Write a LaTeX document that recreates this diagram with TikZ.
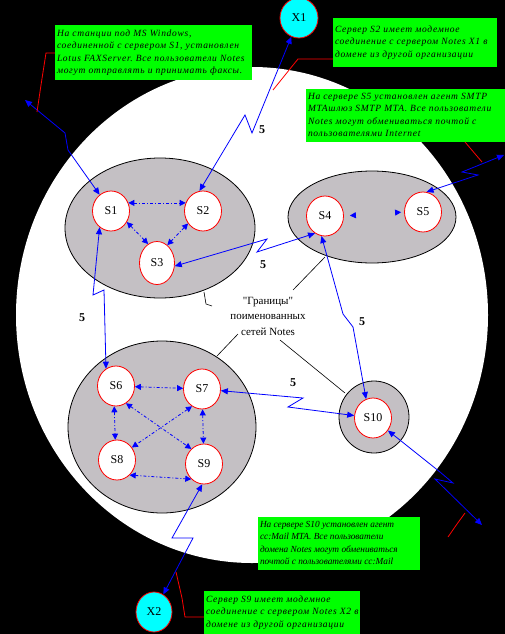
\documentclass[tikz,border=0pt]{standalone}
\usepackage{fontspec}
\setmainfont{Liberation Serif}
\newfontfamily\boxfont[LetterSpace=7.5]{Liberation Serif}
\newfontfamily\boxfontn[LetterSpace=0]{Liberation Serif}
\newfontfamily\lblfont{Liberation Serif}
\usetikzlibrary{shapes.geometric,arrows.meta}
\definecolor{grn}{RGB}{0,255,0}
\definecolor{cyn}{RGB}{0,255,255}
\definecolor{gry}{RGB}{196,192,196}
\definecolor{blu}{RGB}{0,0,255}
\definecolor{rd}{RGB}{255,0,0}
\newcommand\notelines[2]{\makebox[#1][l]{\begin{tabular}{@{}l@{}}#2\end{tabular}}}
\frenchspacing
\begin{document}
\begin{tikzpicture}[x=1pt,y=-1pt,
  server/.style={ellipse,draw=rd,fill=white,line width=0.8pt,minimum width=37pt,minimum height=40pt,inner sep=0pt,font=\fontsize{12}{12}\selectfont},
  ext/.style={ellipse,draw=rd,fill=cyn,line width=0.8pt,minimum width=37pt,minimum height=40pt,inner sep=0pt,font=\fontsize{12}{12}\selectfont},
  grp/.style={ellipse,draw=black,fill=gry,line width=0.8pt,inner sep=0pt},
  note/.style={fill=grn,inner xsep=2pt,inner ysep=0pt,font=\boxfont\itshape\fontsize{9.5}{12.3}\selectfont\frenchspacing},
  lead/.style={draw=rd,line width=0.8pt},
  blk/.style={draw=black,line width=0.6pt},
  lan/.style={draw=blu,line width=0.8pt,dash pattern=on 3pt off 2pt on 1pt off 2pt,{Triangle[length=6pt,width=6pt,color=blu]}-{Triangle[length=6pt,width=6pt,color=blu]}},
  wan/.style={draw=blu,line width=0.8pt,{Triangle[length=7pt,width=6pt]}-{Triangle[length=7pt,width=6pt]}},
  num/.style={font=\bfseries\fontsize{12}{12}\selectfont,inner sep=0pt}
]
\useasboundingbox (0,0) rectangle (505,634);
\fill[black] (0,0) rectangle (505,634);
\fill[white] (252,315) ellipse[x radius=236, y radius=248];

% groups
\node[grp,minimum width=190pt,minimum height=140pt] (gA) at (160,228) {};
\node[grp,minimum width=168pt,minimum height=92pt] (gB) at (372,217) {};
\node[grp,minimum width=188pt,minimum height=172pt] (gC) at (162,427) {};
\node[grp,minimum width=70pt,minimum height=72pt] (gD) at (374,417) {};

% servers
\node[server] (S1) at (111,211) {S1};
\node[server] (S2) at (203,211) {S2};
\node[server,minimum width=35pt,minimum height=43pt] (S3) at (157,263) {S3};
\node[server] (S4) at (325,216) {S4};
\node[server] (S5) at (423,212) {S5};
\node[server] (S6) at (116,386) {S6};
\node[server] (S7) at (202,389) {S7};
\node[server] (S8) at (117,460) {S8};
\node[server] (S9) at (204,464) {S9};
\node[server] (S10) at (373,418) {S10};
\node[ext,minimum width=38pt] (X1) at (299,18) {X1};
\node[ext,minimum width=36pt] (X2) at (154,612) {X2};

% LAN links
\draw[lan] (S1.25) -- (S2.155);
\draw[lan] (S1.-35) -- (S3.115);
\draw[lan] (S2.-140) -- (S3.60);
\draw[lan,draw=gry,shorten <=6pt,shorten >=3pt] (S4.0) -- (S5.180);
\draw[lan] (S6) -- (S7);
\draw[lan] (S6.-95) -- (S8.95);
\draw[lan] (S7) -- (S9);
\draw[lan] (S8.-50) -- (S9.-130);
\draw[lan] (S6.-60) -- (S9.130);
\draw[lan] (S7.-120) -- (S8.40);

% WAN / modem links
\coordinate (fax) at (25,100);
\coordinate (ne) at (504,155);
\coordinate (se) at (482,525);
\draw[wan] (fax) -- (65,133) -- (68,150) -- (S1.125);
\draw[wan] (S2.100) -- (245,115) -- (252,133) -- (X1);
\draw[wan] (S3.-10) -- (267,239) -- (257,252) -- (S4.-120);
\draw[wan] (S4.-100) -- (343,314) -- (353,327) -- (S10.110);
\draw[wan] (S7) -- (303,398) -- (288,407) -- (S10);
\draw[wan] (S1.-125) -- (93,295) -- (104,290) -- (S6.120);
\draw[wan] (S9.-95) -- (172,538) -- (193,538) -- (X2);
\draw[wan] (S5.80) -- (478,175) -- (462,172) -- (ne);
\draw[wan] (S10.-40) -- (440,472) -- (453,483) -- (435,479) -- (se);

\node[num] (n1) at (262,130) {5};
\node[num] (n2) at (263,265) {5};
\node[num] (n3) at (362,322) {5};
\node[num] (n4) at (293,383) {5};
\node[num] (n5) at (82,318) {5};

% boundary label
\node[align=center,font=\lblfont\fontsize{11}{15.5}\selectfont,inner sep=0pt] (lbl) at (268,316) {"Границы"\\поименованных\\сетей Notes};
\draw[blk] (204,292) -- (206,304) -- (212,306);
\draw[blk] (325,257) -- (293,290);
\draw[blk] (238,334) -- (217,356);
\draw[blk] (280,340) -- (345,393);

% notes
\node[note,minimum height=55pt] (nA) at (153.5,52.5) {\notelines{193pt}{На станции под MS Windows,\\соединенной с сервером S1, установлен\\Lotus FAXServer. Все пользователи Notes\\могут отправлять и принимать факсы.}};
\node[note,minimum height=49pt] (nB) at (415,42.5) {\notelines{160pt}{Сервер S2 имеет модемное\\соединение с сервером Notes X1 в\\домене из другой организации}};
\node[note,minimum height=53pt] (nC) at (405.5,115.5) {\notelines{195pt}{На сервере S5 установлен агент SMTP\\MTAшлюз SMTP MTA. Все пользователи\\Notes могут обмениваться почтой с\\пользователями Internet}};
\node[note,minimum height=53pt,font=\boxfontn\itshape\fontsize{9.3}{12.3}\selectfont] (nD) at (339,543.5) {\notelines{158pt}{На сервере S10 установлен агент\\cc:Mail MTA. Все пользователи\\домена Notes могут обмениваться\\почтой с пользователями cc:Mail}};
\node[note,minimum height=43pt] (nE) at (282,612.5) {\notelines{152pt}{Сервер S9 имеет модемное\\соединение с сервером Notes X2 в\\домене из другой организации}};

% red leaders
\draw[lead] (nA.west |- 0,53) -- (46,53) -- (41,85) -- (37,112);
\draw[lead] (nB.west |- 0,59) -- (298,59) -- (273,90);
\draw[lead] (465,142) -- (482,162);
\draw[lead] (448,537) -- (457,524) -- (465,513);
\draw[lead] (176,572) -- (182,598) -- (185,617) -- (nE.west |- 0,617);
\end{tikzpicture}
\end{document}
